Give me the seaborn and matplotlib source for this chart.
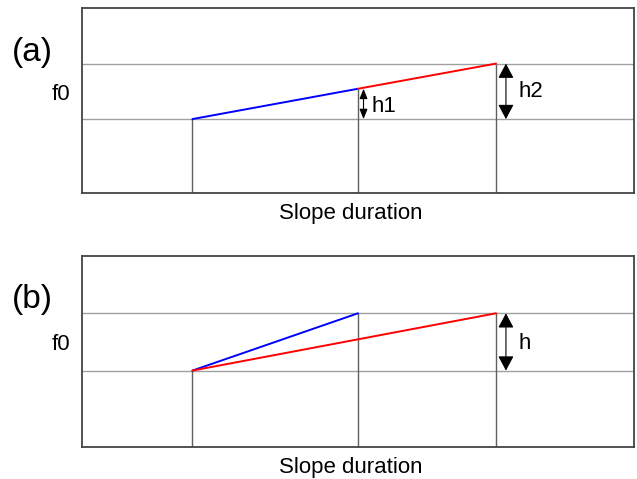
import numpy as np
import pandas as pd
import matplotlib.pyplot as plt
import seaborn as sns

# Values (x = slope time, y = f0)
x_onset = 2.0
x_short = 5.0
x_long = 7.5
f0_low = 4.0
f0_high = 7.0
f0_mid_a = 5.64   # where the (a) slope crosses the short duration

# (a): one slope, blue part then red part
seg_a_blue = pd.DataFrame({"t": [x_onset, x_short], "f0": [f0_low, f0_mid_a]})
seg_a_red = pd.DataFrame({"t": [x_short, x_long], "f0": [f0_mid_a, f0_high]})
# (b): two slopes with the same height
seg_b_blue = pd.DataFrame({"t": [x_onset, x_short], "f0": [f0_low, f0_high]})
seg_b_red = pd.DataFrame({"t": [x_onset, x_long], "f0": [f0_low, f0_high]})

sns.set_theme(style="white")
plt.rcParams['font.family'] = ['Liberation Sans', 'DejaVu Sans']
plt.rcParams['text.color'] = 'black'
plt.rcParams['axes.labelcolor'] = 'black'

fig = plt.figure(figsize=(6.37, 4.79), dpi=100)
ax_a = fig.add_axes([0.1287, 0.597, 0.8666, 0.386])
ax_b = fig.add_axes([0.1287, 0.0668, 0.8666, 0.3988])

grid_col = '#a0a0a0'
vline_col = '#606060'
fs = 16


def frame(ax, label, label_y):
    ax.set_xlim(0, 10)
    ax.set_ylim(0, 10)
    ax.set_xticks([])
    ax.set_yticks([])
    for s in ax.spines.values():
        s.set_color('#444444')
        s.set_linewidth(1.3)
        s.set_visible(True)
    for y in (f0_low, f0_high):
        ax.axhline(y, color=grid_col, lw=1.0, zorder=1)
    ax.text(-0.089, label_y, label, transform=ax.transAxes, fontsize=24,
            ha='center', va='center')


def labels(ax, f0_y, xl_y):
    # seaborn hides the axis labels when there are no ticks, so force them on
    ax.set_xlabel('Slope duration', fontsize=fs, va='center', visible=True)
    ax.xaxis.set_label_coords(0.486, xl_y)
    ax.set_ylabel('f0', fontsize=fs, rotation=0, ha='center', va='center', visible=True)
    ax.yaxis.set_label_coords(-0.038, f0_y)


def arrow(ax, x, y0, y1, hl, hw):
    ax.annotate('', xy=(x, y1), xytext=(x, y0),
                arrowprops=dict(arrowstyle=f'<|-|>,head_length={hl},head_width={hw}',
                                color='black', lw=0.8, shrinkA=0, shrinkB=0))


# ---- panel (a)
frame(ax_a, '(a)', 0.762)
ax_a.vlines(x_onset, 0, f0_low, color=vline_col, lw=1.0, zorder=1)
ax_a.vlines(x_short, 0, f0_mid_a, color=vline_col, lw=1.0, zorder=1)
ax_a.vlines(x_long, 0, f0_high, color=vline_col, lw=1.0, zorder=1)
sns.lineplot(data=seg_a_blue, x='t', y='f0', color='#0000ff', lw=1.4, ax=ax_a, zorder=3)
sns.lineplot(data=seg_a_red, x='t', y='f0', color='#ff0000', lw=1.4, ax=ax_a, zorder=3)
labels(ax_a, 0.535, -0.108)
arrow(ax_a, x_short + 0.1, f0_low, f0_mid_a, 0.5, 0.2)
arrow(ax_a, x_long + 0.18, f0_low, f0_high, 0.75, 0.4)
ax_a.text(x_short + 0.25, (f0_low + f0_mid_a) / 2 - 0.15, 'h1', fontsize=fs, va='center')
ax_a.text(x_long + 0.4, (f0_low + f0_high) / 2, 'h2', fontsize=fs, va='center')

# ---- panel (b)
frame(ax_b, '(b)', 0.77)
ax_b.vlines(x_onset, 0, f0_low, color=vline_col, lw=1.0, zorder=1)
ax_b.vlines(x_short, 0, f0_high, color=vline_col, lw=1.0, zorder=1)
ax_b.vlines(x_long, 0, f0_high, color=vline_col, lw=1.0, zorder=1)
sns.lineplot(data=seg_b_blue, x='t', y='f0', color='#0000ff', lw=1.4, ax=ax_b, zorder=3)
sns.lineplot(data=seg_b_red, x='t', y='f0', color='#ff0000', lw=1.4, ax=ax_b, zorder=3)
labels(ax_b, 0.539, -0.105)
arrow(ax_b, x_long + 0.18, f0_low, f0_high, 0.75, 0.4)
ax_b.text(x_long + 0.4, (f0_low + f0_high) / 2 - 0.1, 'h', fontsize=fs, va='center')

fig.savefig('out.png', dpi=100)
